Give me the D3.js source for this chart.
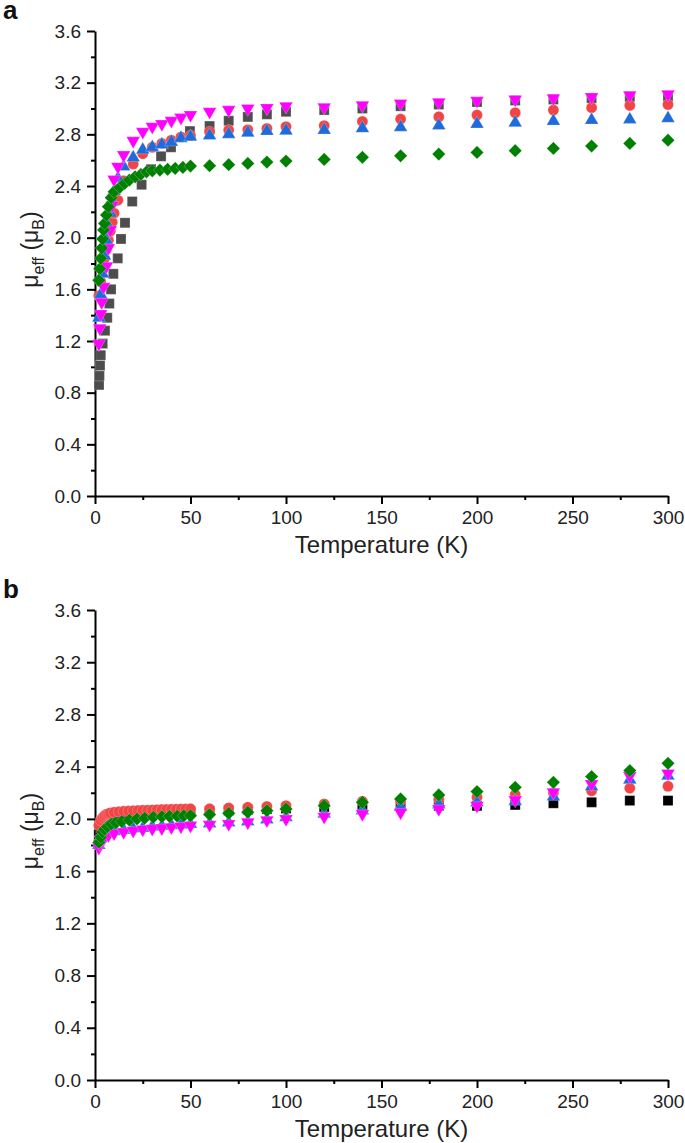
<!DOCTYPE html>
<html>
<head>
<meta charset="utf-8">
<script src="https://cdn.jsdelivr.net/npm/d3@7"></script>
<style>
  body { margin: 0; background: #fff; }
  text { font-family: "Liberation Sans", Arial, sans-serif; }
</style>
</head>
<body>
<script>
// temperatures above 50 K, shared by every series
const highT = [60, 70, 80, 90, 100, 120, 140, 160, 180, 200, 220, 240, 260, 280, 300];

// ---- panel a ----
const aSquareT = [2.1, 2.3, 2.6, 3, 4, 5.2, 6.4, 7.5, 8.4, 9.6, 11.9, 13.6, 15.7, 19.5, 24.4, 29.3, 34.6, 39.8, 49.7];
const aSquareMu = [0.86, 0.93, 1.01, 1.09, 1.18, 1.28, 1.38, 1.49, 1.60, 1.72, 1.84, 1.99, 2.115, 2.28, 2.41, 2.53, 2.63, 2.70, 2.825,
  2.864, 2.905, 2.935, 2.955, 2.975, 2.988, 3.0, 3.018, 3.031, 3.05, 3.062, 3.07, 3.08, 3.09, 3.095];

const aCircleT = [2, 3, 4, 5, 6, 7, 8, 9, 10, 12, 15, 20, 25, 30, 35, 40, 45, 50];
const aCircleMu = [1.55, 1.66, 1.76, 1.84, 1.91, 1.98, 2.05, 2.12, 2.19, 2.29, 2.44, 2.57, 2.65, 2.70, 2.73, 2.755, 2.78, 2.79,
  2.82, 2.833, 2.836, 2.846, 2.859, 2.867, 2.90, 2.918, 2.936, 2.949, 2.967, 2.988, 3.006, 3.024, 3.031];

const aUpT = [2, 3, 4, 5, 6, 7, 8, 9, 10, 12, 15, 20, 25, 30, 35, 40, 45, 50];
const aUpMu = [1.38, 1.56, 1.72, 1.86, 1.98, 2.09, 2.19, 2.28, 2.36, 2.46, 2.55, 2.62, 2.68, 2.70, 2.72, 2.74, 2.77, 2.78,
  2.79, 2.80, 2.812, 2.825, 2.828, 2.833, 2.846, 2.854, 2.867, 2.88, 2.89, 2.902, 2.91, 2.915, 2.923];

const aDownT = [2, 2.5, 3, 3.5, 4.5, 6, 7, 8, 9, 10, 12, 15, 20, 25, 30, 35, 40, 45, 50];
const aDownMu = [1.18, 1.30, 1.41, 1.50, 1.62, 1.78, 1.92, 2.06, 2.25, 2.45, 2.55, 2.64, 2.75, 2.82, 2.86, 2.88, 2.905, 2.93, 2.95,
  2.975, 2.99, 3.0, 3.005, 3.018, 3.01, 3.026, 3.04, 3.049, 3.06, 3.07, 3.08, 3.09, 3.104, 3.11];

const aDiamondT = [2, 2.5, 3, 3.5, 4, 4.5, 5, 6, 7, 8.5, 10, 13, 15.5, 18, 21, 24, 27, 30, 34, 38, 42, 46, 50];
const aDiamondMu = [1.67, 1.76, 1.84, 1.92, 1.99, 2.06, 2.11, 2.175, 2.24, 2.31, 2.355, 2.39, 2.42, 2.446, 2.471, 2.49, 2.51, 2.518, 2.523, 2.529, 2.536, 2.544, 2.554,
  2.557, 2.565, 2.575, 2.585, 2.593, 2.606, 2.622, 2.634, 2.647, 2.66, 2.673, 2.691, 2.709, 2.73, 2.755];

// ---- panel b ----
const bSquareT = [2, 3, 4, 5, 6, 8, 10, 15, 20, 25, 30, 35, 40, 45, 50];
const bSquareMu = [1.88, 1.92, 1.95, 1.97, 1.98, 1.99, 2.0, 2.01, 2.02, 2.03, 2.035, 2.04, 2.045, 2.05, 2.055,
  2.06, 2.065, 2.07, 2.075, 2.08, 2.09, 2.095, 2.10, 2.10, 2.10, 2.107, 2.12, 2.127, 2.14, 2.14];

const bCircleT = [2, 3, 4, 5, 6, 7, 8, 10, 12.5, 15, 17.5, 20, 22.5, 25, 27.5, 30, 32.5, 35, 37.5, 40, 42.5, 45, 47.5, 50];
const bCircleMu = [1.95, 1.99, 2.01, 2.025, 2.035, 2.04, 2.045, 2.05, 2.055, 2.058, 2.06, 2.062, 2.064, 2.066, 2.067, 2.068, 2.07, 2.071, 2.072, 2.073, 2.074, 2.075, 2.076, 2.077,
  2.077, 2.084, 2.089, 2.095, 2.101, 2.115, 2.135, 2.14, 2.15, 2.166, 2.185, 2.20, 2.215, 2.235, 2.25];

const bUpT = [2, 3, 4, 5, 6, 7, 8, 10, 15, 20, 25, 30, 35, 40, 45, 50];
const bUpMu = [1.80, 1.85, 1.87, 1.88, 1.89, 1.895, 1.90, 1.905, 1.915, 1.925, 1.93, 1.94, 1.945, 1.95, 1.955, 1.96,
  1.965, 1.972, 1.98, 1.995, 2.012, 2.038, 2.064, 2.09, 2.11, 2.125, 2.135, 2.17, 2.247, 2.30, 2.33];

const bDownT = [2, 2.5, 3, 4, 5, 7, 10, 15, 20, 25, 30, 35, 40, 45, 50];
const bDownMu = [1.78, 1.81, 1.84, 1.85, 1.86, 1.875, 1.89, 1.90, 1.91, 1.92, 1.925, 1.93, 1.936, 1.942, 1.949,
  1.955, 1.962, 1.974, 1.99, 2.0, 2.017, 2.038, 2.05, 2.076, 2.101, 2.145, 2.204, 2.268, 2.33, 2.349];

const bDiamondT = [2, 3, 4, 5, 6.5, 8.5, 11, 14, 18, 22, 26, 30.5, 35, 39, 43, 46.5, 50];
const bDiamondMu = [1.82, 1.86, 1.90, 1.92, 1.94, 1.96, 1.97, 1.98, 1.99, 2.0, 2.005, 2.013, 2.017, 2.02, 2.022, 2.024, 2.025,
  2.033, 2.043, 2.051, 2.063, 2.076, 2.101, 2.127, 2.153, 2.183, 2.209, 2.242, 2.28, 2.324, 2.37, 2.426];

const yTicks = [0, 0.4, 0.8, 1.2, 1.6, 2.0, 2.4, 2.8, 3.2, 3.6];
const xTicks = [0, 50, 100, 150, 200, 250, 300];

const width = 685, height = 1143;
const svg = d3.select("body").append("svg")
  .attr("width", width)
  .attr("height", height);

const x = d3.scaleLinear().domain([0, 300]).range([95, 668]);

// marker shapes, drawn back to front
const markers = {
  square:  { path: d3.symbol(d3.symbolSquare, 100)(), rot: 0 },
  circle:  { path: d3.symbol(d3.symbolCircle, 95)(), rot: 0 },
  up:      { path: d3.symbol(d3.symbolTriangle, 80)(), rot: 0 },
  down:    { path: d3.symbol(d3.symbolTriangle, 80)(), rot: 180 },
  diamond: { path: d3.symbol(d3.symbolSquare, 88)(), rot: 45 }
};

function pairs(lowT, mu) {
  const ts = lowT.concat(highT);
  return ts.map((t, i) => ({ t: t, mu: mu[i] }));
}

function drawPanel(label, top, bottom, series) {
  const y = d3.scaleLinear().domain([0, 3.6]).range([bottom, top]);
  const g = svg.append("g");

  // minor ticks first
  g.append("g")
    .attr("transform", `translate(${x(0)},0)`)
    .call(d3.axisLeft(y).tickValues(d3.range(0.2, 3.6, 0.4)).tickSize(4).tickFormat(""))
    .call(a => a.select(".domain").remove())
    .call(a => a.selectAll("line").attr("stroke-width", 2));
  g.append("g")
    .attr("transform", `translate(0,${bottom})`)
    .call(d3.axisBottom(x).tickValues(d3.range(25, 300, 50)).tickSize(4).tickFormat(""))
    .call(a => a.select(".domain").remove())
    .call(a => a.selectAll("line").attr("stroke-width", 2));

  const yAxis = g.append("g")
    .attr("transform", `translate(${x(0)},0)`)
    .call(d3.axisLeft(y).tickValues(yTicks).tickSize(8).tickSizeOuter(0).tickPadding(6).tickFormat(d3.format(".1f")));
  const xAxis = g.append("g")
    .attr("transform", `translate(0,${bottom})`)
    .call(d3.axisBottom(x).tickValues(xTicks).tickSize(8).tickSizeOuter(0).tickPadding(7));
  [yAxis, xAxis].forEach(a => {
    a.select(".domain").attr("stroke-width", 2);
    a.selectAll("line").attr("stroke-width", 2);
    a.selectAll("text").attr("font-size", 19).attr("fill", "#222")
      .attr("font-family", "Liberation Sans, Arial, sans-serif");
  });

  // x title
  g.append("text")
    .attr("x", (x(0) + x(300)) / 2)
    .attr("y", bottom + 57)
    .attr("text-anchor", "middle")
    .attr("font-size", 24)
    .attr("fill", "#222")
    .text("Temperature (K)");

  // y title
  const yt = g.append("text")
    .attr("transform", `translate(38,${(top + bottom) / 2 - 14}) rotate(-90)`)
    .attr("text-anchor", "middle")
    .attr("font-size", 23)
    .attr("fill", "#222");
  yt.append("tspan").text("\u03bc");
  yt.append("tspan").attr("font-size", 16).attr("dy", 6).text("eff");
  yt.append("tspan").attr("dy", -6).text(" (\u03bc");
  yt.append("tspan").attr("font-size", 16).attr("dy", 6).text("B");
  yt.append("tspan").attr("dy", -6).text(")");

  // panel letter
  g.append("text")
    .attr("x", 3)
    .attr("y", top - 12)
    .attr("font-size", 26)
    .attr("font-weight", "bold")
    .attr("fill", "#111")
    .text(label);

  series.forEach(s => {
    const m = markers[s.shape];
    g.append("g").selectAll("path")
      .data(pairs(s.t, s.mu))
      .enter().append("path")
      .attr("d", m.path)
      .attr("transform", d => `translate(${x(d.t)},${y(d.mu)}) rotate(${m.rot})`)
      .attr("fill", s.color)
      .attr("stroke", "#fff")
      .attr("stroke-width", 0.4)
      .attr("stroke-opacity", 0.6);
  });
}

drawPanel("a", 31, 496, [
  { shape: "square", color: "#4d4d4d", t: aSquareT, mu: aSquareMu },
  { shape: "circle", color: "#f24444", t: aCircleT, mu: aCircleMu },
  { shape: "up", color: "#1f6bdc", t: aUpT, mu: aUpMu },
  { shape: "down", color: "#ff00ff", t: aDownT, mu: aDownMu },
  { shape: "diamond", color: "#008000", t: aDiamondT, mu: aDiamondMu }
]);

drawPanel("b", 610, 1080, [
  { shape: "square", color: "#000000", t: bSquareT, mu: bSquareMu },
  { shape: "circle", color: "#f24444", t: bCircleT, mu: bCircleMu },
  { shape: "up", color: "#1f6bdc", t: bUpT, mu: bUpMu },
  { shape: "down", color: "#ff00ff", t: bDownT, mu: bDownMu },
  { shape: "diamond", color: "#008000", t: bDiamondT, mu: bDiamondMu }
]);
</script>
</body>
</html>
